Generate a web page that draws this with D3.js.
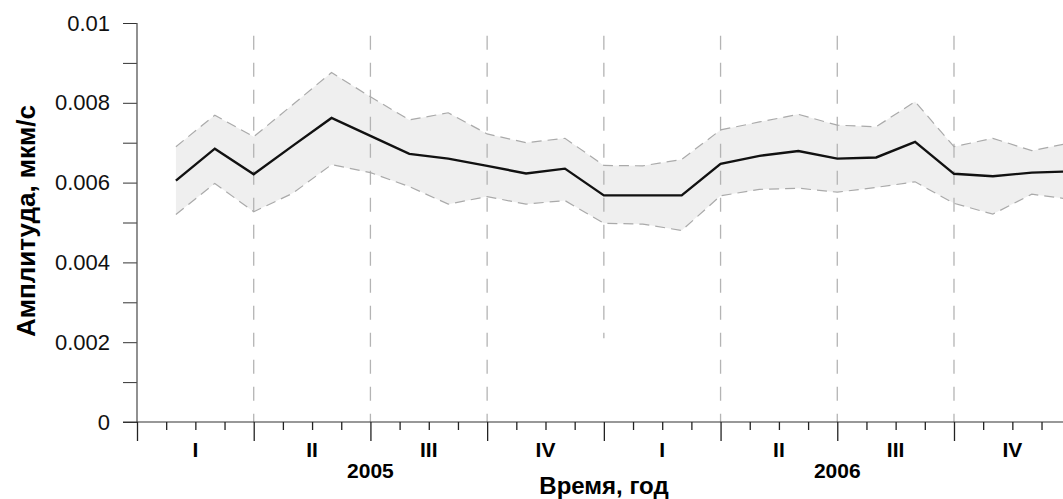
<!DOCTYPE html>
<html>
<head>
<meta charset="utf-8">
<title>Амплитуда</title>
<style>
body {
	margin: 0;
	background: #ffffff;
}
svg text {
	font-family: "Liberation Sans", Arial, sans-serif;
}
</style>
<script src="https://d3js.org/d3.v7.min.js"></script>
</head>
<body>
<svg id="chart" width="1063" height="499"></svg>
<script>
// months counted from the start of 2005, one value per month end
var months = d3.range(1, 25);
var mean  = [0.00605, 0.00685, 0.00621, 0.00692, 0.00762, 0.00717, 0.00672, 0.00660, 0.00642, 0.00623, 0.00635, 0.00568,
             0.00568, 0.00568, 0.00647, 0.00667, 0.00679, 0.00660, 0.00663, 0.00702, 0.00622, 0.00616, 0.00625, 0.00628];
var upper = [0.00690, 0.00769, 0.00715, 0.00795, 0.00876, 0.00815, 0.00757, 0.00775, 0.00722, 0.00700, 0.00711, 0.00643,
             0.00642, 0.00658, 0.00732, 0.00752, 0.00771, 0.00744, 0.00740, 0.00803, 0.00690, 0.00711, 0.00680, 0.00700];
var lower = [0.00520, 0.00598, 0.00527, 0.00573, 0.00645, 0.00625, 0.00590, 0.00546, 0.00565, 0.00546, 0.00555, 0.00498,
             0.00496, 0.00480, 0.00567, 0.00583, 0.00586, 0.00576, 0.00588, 0.00602, 0.00548, 0.00521, 0.00571, 0.00558];

var quarterLabels = ["I", "II", "III", "IV", "I", "II", "III", "IV"];
var years = [{label: "2005", month: 6}, {label: "2006", month: 18}];
// quarter boundaries drawn as dashed lines, with the value where each one stops
var boundaries = [3, 6, 9, 12, 15, 18, 21];
var boundaryBottom = [0, 0, 0, 0.0021, 0, 0, 0];
var yTicks = d3.range(0, 11).map(function(i){ return i / 1000; });
var yLabels = {0: "0", 2: "0.002", 4: "0.004", 6: "0.006", 8: "0.008", 10: "0.01"};

var svg = d3.select("#chart");

var x = d3.scaleLinear().domain([0, 24]).range([137, 1070.7]);
var y = d3.scaleLinear().domain([0, 0.01]).range([422, 23]);

var rows = months.map(function(m, i){
	return {m: m, mean: mean[i], up: upper[i], lo: lower[i]};
});

// band
svg.append("path")
	.datum(rows)
	.attr("fill", "#efefef")
	.attr("d", d3.area()
		.x(function(d){ return x(d.m); })
		.y0(function(d){ return y(d.lo); })
		.y1(function(d){ return y(d.up); }));

// quarter boundaries
svg.selectAll(".bound")
	.data(boundaries)
	.enter().append("line")
	.attr("class", "bound")
	.attr("x1", function(d){ return x(d); })
	.attr("x2", function(d){ return x(d); })
	.attr("y1", y(0.00968))
	.attr("y2", function(d, i){ return y(boundaryBottom[i]); })
	.attr("stroke", "#b4b4b4")
	.attr("stroke-width", 1.3)
	.attr("stroke-dasharray", "14,13");

// band edges
["up", "lo"].forEach(function(k){
	svg.append("path")
		.datum(rows)
		.attr("fill", "none")
		.attr("stroke", "#aaaaaa")
		.attr("stroke-width", 1.2)
		.attr("stroke-dasharray", "10,6")
		.attr("d", d3.line()
			.x(function(d){ return x(d.m); })
			.y(function(d){ return y(d[k]); }));
});

// mean line
svg.append("path")
	.datum(rows)
	.attr("fill", "none")
	.attr("stroke", "#111111")
	.attr("stroke-width", 2.4)
	.attr("d", d3.line()
		.x(function(d){ return x(d.m); })
		.y(function(d){ return y(d.mean); }));

// y axis
var yAxis = svg.append("g")
	.attr("transform", "translate(" + x(0) + ",0)")
	.call(d3.axisLeft(y)
		.tickValues(yTicks)
		.tickSize(14)
		.tickPadding(13)
		.tickFormat(function(d){ var k = Math.round(d * 1000); return yLabels[k] || ""; }));
yAxis.select(".domain").remove();
yAxis.selectAll("line").attr("stroke", "#333");
yAxis.selectAll("text")
	.attr("font-size", 22)
	.attr("fill", "#111");
svg.append("line")
	.attr("x1", x(0)).attr("x2", x(0))
	.attr("y1", y(0.01)).attr("y2", y(0))
	.attr("stroke", "#555")
	.attr("stroke-width", 1.3);

// x axis
svg.append("line")
	.attr("x1", 123).attr("x2", 1063)
	.attr("y1", y(0)).attr("y2", y(0))
	.attr("stroke", "#333")
	.attr("stroke-width", 1.2);

// four ticks per quarter, the quarter ones longer
var minor = d3.range(0, 33).filter(function(i){ return i % 4 != 0; }).map(function(i){ return i * 0.75; });
var major = d3.range(0, 9).map(function(i){ return i * 3; });

var xMinor = svg.append("g")
	.attr("transform", "translate(0," + y(0) + ")")
	.call(d3.axisBottom(x).tickValues(minor).tickSize(8).tickFormat(""));
xMinor.select(".domain").remove();
xMinor.selectAll("line").attr("stroke", "#222").attr("stroke-width", 1.3);

var xMajor = svg.append("g")
	.attr("transform", "translate(0," + y(0) + ")")
	.call(d3.axisBottom(x).tickValues(major).tickSize(19).tickFormat(""));
xMajor.select(".domain").remove();
xMajor.selectAll("line").attr("stroke", "#222").attr("stroke-width", 1.3);

svg.selectAll(".q")
	.data(quarterLabels)
	.enter().append("text")
	.attr("class", "q")
	.attr("x", function(d, i){ return x(i * 3 + 1.5); })
	.attr("y", 457)
	.attr("text-anchor", "middle")
	.attr("font-size", 21)
	.attr("font-weight", "bold")
	.text(function(d){ return d; });

svg.selectAll(".yr")
	.data(years)
	.enter().append("text")
	.attr("class", "yr")
	.attr("x", function(d){ return x(d.month); })
	.attr("y", 478)
	.attr("text-anchor", "middle")
	.attr("font-size", 21)
	.attr("font-weight", "bold")
	.text(function(d){ return d.label; });

svg.append("text")
	.attr("x", 604)
	.attr("y", 494)
	.attr("text-anchor", "middle")
	.attr("font-size", 24)
	.attr("font-weight", "bold")
	.text("Время, год");

svg.append("text")
	.attr("transform", "translate(35,221) rotate(-90)")
	.attr("text-anchor", "middle")
	.attr("font-size", 26)
	.attr("font-weight", "bold")
	.text("Амплитуда, мкм/с");
</script>
</body>
</html>
